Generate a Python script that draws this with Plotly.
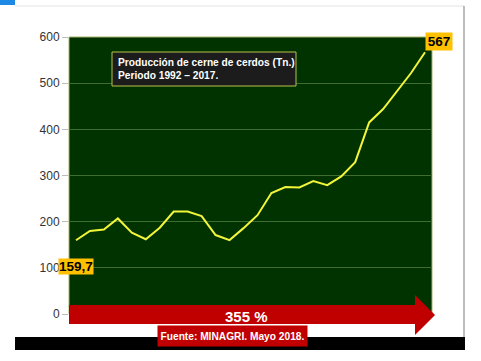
import plotly.graph_objects as go

years = list(range(1992, 2018))
produccion = [159.7, 180, 183, 207, 176, 162, 187, 222, 222, 212, 171, 160, 186, 214,
              262, 275, 274, 288, 279, 298, 329, 415, 444, 482, 522, 567]
y_ticks = [0, 100, 200, 300, 400, 500, 600]
title_text = "<b>Producción de cerne de cerdos (Tn.)<br>Periodo 1992 – 2017.</b>"
first_label = "159,7"
last_label = "567"
growth_text = "355 %"
source_text = "Fuente: MINAGRI. Mayo 2018."

W, H = 481, 361
L, R, T, B = 69, 432, 37, 314


def px(x, y):
    return (x - L) / (R - L), (B - y) / (B - T)


fig = go.Figure()
fig.add_trace(go.Scatter(x=years, y=produccion, mode="lines",
                         line=dict(color="#f2f53a", width=2), hoverinfo="skip"))

shapes = []
# outer frame
for x0, y0, x1, y1, col in [(15, 5.5, 464, 6.5, "#e4e4e4"), (463.5, 6, 464.5, 337, "#7a7a7a"),
                            (15, 337, 465, 350, "#000000"), (0, 0, 15, 5, "#1e88e5")]:
    a, b = px(x0, y0)
    c, d = px(x1, y1)
    shapes.append(dict(type="rect", xref="paper", yref="paper", x0=a, y0=b, x1=c, y1=d,
                       fillcolor=col, line=dict(width=0), layer="above"))
# plot border
shapes.append(dict(type="rect", xref="paper", yref="paper", x0=0, y0=0, x1=1, y1=1,
                   line=dict(color="#a9b26a", width=1), layer="below"))
# arrow
pts = [(69, 305), (415, 305), (415, 295), (435, 315), (415, 335), (415, 324), (69, 324)]
path = "M " + " L ".join("%.4f,%.4f" % px(x, y) for x, y in pts) + " Z"
shapes.append(dict(type="path", xref="paper", yref="paper", path=path,
                   fillcolor="#c00000", line=dict(width=0), layer="above"))
# title box
a, b = px(112, 52)
c, d = px(296, 86)
shapes.append(dict(type="rect", xref="paper", yref="paper", x0=a, y0=b, x1=c, y1=d,
                   fillcolor="#1c1c1c", line=dict(color="#b8c24a", width=1), layer="above"))

FONT = "Liberation Sans Narrow, Arial Narrow, Liberation Sans, Arial"
ann = []


def add_ann(x, y, text, size, color, xanchor="center", bg=None, align="center", w=None, h=None):
    ax, ay = px(x, y)
    d = dict(xref="paper", yref="paper", x=ax, y=ay, xanchor=xanchor, yanchor="middle",
             text=text, showarrow=False, align=align,
             font=dict(family=FONT, size=size, color=color))
    if bg:
        d.update(bgcolor=bg, borderpad=0, width=w, height=h, valign="middle")
    ann.append(d)


add_ann(116, 69, title_text, 10.2, "white", xanchor="left", align="left")
add_ann(246.5, 316, "<b>" + growth_text + "</b>", 15, "white")
add_ann(232.5, 336, "<b>" + source_text + "</b>", 10.2, "white", bg="#c00000", w=149, h=20)
add_ann(76, 266.5, "<b>" + first_label + "</b>", 13.5, "black", bg="#ffc000", w=34, h=15)
add_ann(439, 41.5, "<b>" + last_label + "</b>", 13.5, "black", bg="#ffc000", w=26, h=17)

fig.update_layout(
    width=W, height=H,
    margin=dict(l=L, r=W - R, t=T, b=H - B, pad=0),
    paper_bgcolor="white", plot_bgcolor="#013301",
    showlegend=False, shapes=shapes, annotations=ann,
    xaxis=dict(range=[1991.5, 2017.5], showticklabels=False, showgrid=False, zeroline=False,
               ticks=""),
    yaxis=dict(range=[0, 600], tickvals=y_ticks, showgrid=True, gridcolor="#3f6d30", gridwidth=1,
               zeroline=False, ticks="outside", ticklen=6, tickcolor="#bbbbbb",
               tickfont=dict(family="Arial, Liberation Sans", size=12, color="#333333")),
)

fig.write_html("out.html", config={"displayModeBar": False},
               post_script="document.body.style.margin='0';")
